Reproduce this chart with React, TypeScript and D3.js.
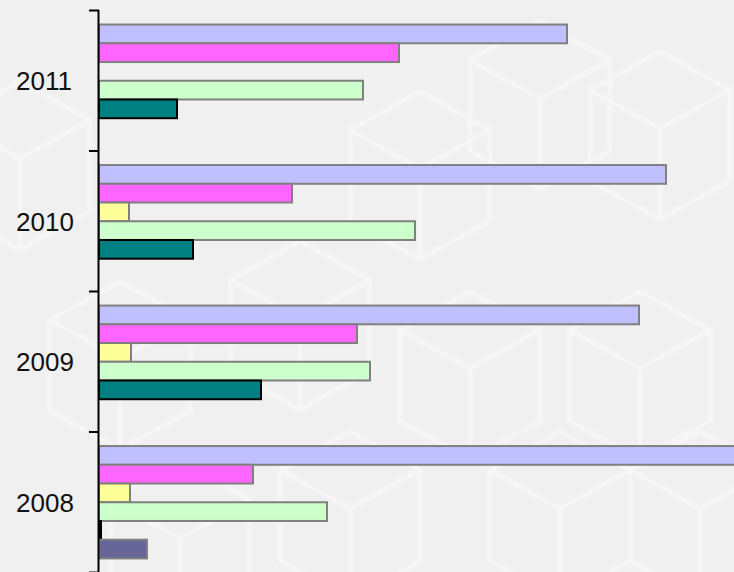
import React, { useEffect, useRef } from "react";
import * as d3 from "d3";

const years = ["2011", "2010", "2009", "2008"];
const seriesNames = ["s1", "s2", "s3", "s4", "s5", "s6"];
const seriesColors = ["#C0C0FF", "#FF66FF", "#FFFF99", "#CCFFCC", "#008080", "#666699"];
const seriesStrokes = ["#808080", "#808080", "#808080", "#808080", "#000000", "#808080"];

// one array per series, in the order of years (null = no bar)
const s1 = [468, 567, 540, 645];
const s2 = [300, 193, 258, 154];
const s3 = [null, 30, 32, 31];
const s4 = [264, 316, 271, 228];
const s5 = [78, 94, 162, 2];
const s6 = [null, null, null, 48];
const seriesValues = [s1, s2, s3, s4, s5, s6];

const W = 734;
const H = 572;

function App() {
  const ref = useRef(null);

  useEffect(() => {
    const svg = d3.select(ref.current);
    svg.selectAll("*").remove();

    svg.append("defs").append("filter").attr("id", "soft")
      .append("feGaussianBlur").attr("stdDeviation", 1.2);

    svg.append("rect").attr("width", W).attr("height", H).attr("fill", "#F0F0F0");

    // faint cube pattern in the background
    const deco = svg.append("g").attr("fill", "none").attr("stroke", "#fbfbfb")
      .attr("stroke-width", 4).attr("stroke-linejoin", "round").attr("opacity", 0.6)
      .attr("filter", "url(#soft)");
    const cubes = [
      [540, 60], [660, 90], [300, 280], [470, 330], [640, 330], [120, 320],
      [20, 120], [350, 470], [560, 470], [700, 470], [180, 500], [420, 130],
    ];
    cubes.forEach(([cx, cy]) => {
      const s = 70;
      deco.append("path").attr("d",
        `M${cx - s},${cy} L${cx},${cy - s * 0.55} L${cx + s},${cy} L${cx},${cy + s * 0.55} Z ` +
        `M${cx - s},${cy} L${cx - s},${cy + s * 1.3} L${cx},${cy + s * 1.85} L${cx},${cy + s * 0.55} ` +
        `M${cx},${cy + s * 1.85} L${cx + s},${cy + s * 1.3} L${cx + s},${cy}`);
    });

    const y = d3.scaleBand().domain(years).range([10.5, H + 0.5]);
    const inner = d3.scaleBand().domain(seriesNames).range([0, y.bandwidth()])
      .paddingInner(0).paddingOuter(0.75);
    const x = d3.scaleLinear().domain([0, 635]).range([99, W]);

    const groups = svg.append("g").selectAll("g").data(years).join("g")
      .attr("transform", (d) => `translate(0,${y(d)})`);

    seriesNames.forEach((name, si) => {
      groups.each(function (year, yi) {
        const v = seriesValues[si][yi];
        if (v == null) return;
        d3.select(this).append("rect")
          .attr("x", x(0))
          .attr("y", inner(name))
          .attr("width", x(v) - x(0))
          .attr("height", inner.bandwidth())
          .attr("fill", seriesColors[si])
          .attr("stroke", seriesStrokes[si])
          .attr("stroke-width", 2);
      });
    });

    // category axis
    const ax = svg.append("g").attr("stroke", "#000").attr("stroke-width", 2);
    ax.append("line").attr("x1", 98.5).attr("x2", 98.5).attr("y1", 10).attr("y2", H);
    const tickYs = years.map((d) => y(d)).concat([y(years[years.length - 1]) + y.step()]);
    tickYs.forEach((t) => {
      ax.append("line").attr("x1", 89).attr("x2", 99).attr("y1", t).attr("y2", t);
    });

    svg.append("g").selectAll("text").data(years).join("text")
      .attr("x", 16)
      .attr("y", (d) => y(d) + y.bandwidth() / 2 + 9.5)
      .attr("font-family", "Liberation Sans, Arial, sans-serif")
      .attr("font-size", 26)
      .attr("fill", "#111")
      .text((d) => d);
  }, []);

  return (
    <svg
      ref={ref}
      width={W}
      height={H}
      style={{ position: "absolute", left: 0, top: 0, display: "block" }}
    />
  );
}

export default App;
